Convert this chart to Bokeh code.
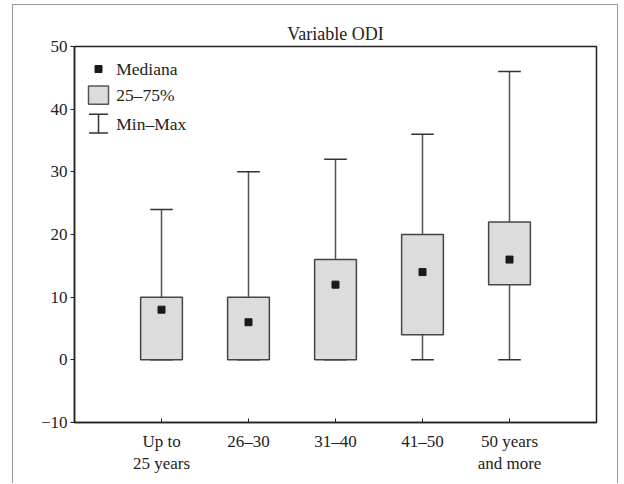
from bokeh.plotting import figure
from bokeh.models import ColumnDataSource, FixedTicker, Label, Range1d
from bokeh.embed import file_html
from bokeh.resources import INLINE

# ---- data ----
categories = ["Up to\n25 years", "26\u201330", "31\u201340", "41\u201350", "50 years\nand more"]
positions = [1, 2, 3, 4, 5]
mins = [0, 0, 0, 0, 0]
q1 = [0, 0, 0, 4, 12]
medians = [8, 6, 12, 14, 16]
q3 = [10, 10, 16, 20, 22]
maxs = [24, 30, 32, 36, 46]
y_ticks = [-10, 0, 10, 20, 30, 40, 50]

FONT = "Liberation Serif"
BOX_W = 0.48
CAP_W = 0.26

src = ColumnDataSource(dict(
    x=positions, lo=mins, q1=q1, med=medians, q3=q3, hi=maxs,
    left=[p - BOX_W / 2 for p in positions], right=[p + BOX_W / 2 for p in positions],
    cl=[p - CAP_W / 2 for p in positions], cr=[p + CAP_W / 2 for p in positions],
))

p = figure(width=606, height=479, x_range=Range1d(0, 6), y_range=Range1d(-10, 50),
           output_backend="svg", toolbar_location=None,
           min_border_left=61, min_border_right=23, min_border_top=41, min_border_bottom=62,
           styles={"margin-left": "12px", "margin-top": "4px", "margin-bottom": "-6px",
                   "border": "1px solid #9a9a9a", "border-bottom": "none"})

p.grid.visible = False
p.outline_line_color = "#222222"
p.outline_line_width = 1.5
p.background_fill_color = "white"
p.border_fill_color = "white"

p.title.text = "Variable ODI"
p.title.align = "center"
p.title.text_font = FONT
p.title.text_font_size = "18px"
p.title.text_font_style = "normal"
p.title.text_color = "#222222"
p.title.standoff = 5

# whiskers (stems)
p.segment(x0="x", y0="q3", x1="x", y1="hi", source=src, line_color="#555555", line_width=1.5)
p.segment(x0="x", y0="lo", x1="x", y1="q1", source=src, line_color="#555555", line_width=1.5)
# caps
p.segment(x0="cl", y0="hi", x1="cr", y1="hi", source=src, line_color="#333333", line_width=1.5)
p.segment(x0="cl", y0="lo", x1="cr", y1="lo", source=src, line_color="#333333", line_width=1.5)
# boxes
p.quad(left="left", right="right", bottom="q1", top="q3", source=src,
       fill_color="#dcdcdc", line_color="#444444", line_width=1.5)
# medians
p.scatter(x="x", y="med", source=src, marker="square", size=7,
          fill_color="#1a1a1a", line_color="#1a1a1a")

# ---- manual legend (layout positions in data space) ----
lx = 0.276  # legend symbol centre x
p.scatter(x=[lx], y=[46.4], marker="square", size=7, fill_color="#1a1a1a", line_color="#1a1a1a")
p.quad(left=[lx - 0.115], right=[lx + 0.115], bottom=[40.8], top=[43.7],
       fill_color="#dcdcdc", line_color="#555555", line_width=1.5)
p.segment(x0=[lx, lx - 0.11, lx - 0.11], y0=[39.2, 39.2, 36.2],
          x1=[lx, lx + 0.11, lx + 0.11], y1=[36.2, 39.2, 36.2],
          line_color="#333333", line_width=1.5)
for ty, txt in [(46.4, "Mediana"), (42.3, "25\u201375%"), (37.7, "Min\u2013Max")]:
    p.add_layout(Label(x=0.48, y=ty, text=txt, text_font=FONT, text_font_size="17.5px",
                       text_color="#222222", text_baseline="middle"))

# ---- axes ----
p.xaxis.ticker = FixedTicker(ticks=positions)
p.xaxis.major_label_overrides = {pos: lab for pos, lab in zip(positions, categories)}
p.yaxis.ticker = FixedTicker(ticks=y_ticks)
p.yaxis.major_label_overrides = {t: (str(t).replace("-", "\u2212")) for t in y_ticks}

for ax in (p.xaxis, p.yaxis):
    ax.axis_line_color = "#222222"
    ax.axis_line_width = 1.5
    ax.major_tick_line_color = "#222222"
    ax.minor_tick_line_color = None
    ax.major_label_text_font = FONT
    ax.major_label_text_font_size = "17px"
    ax.major_label_text_color = "#222222"

p.xaxis.major_tick_in = 4
p.xaxis.major_tick_out = 0
p.xaxis.major_label_standoff = 9
p.yaxis.major_tick_in = 0
p.yaxis.major_tick_out = 4
p.yaxis.major_label_standoff = 3

open("out.html", "w").write(file_html(p, INLINE))
